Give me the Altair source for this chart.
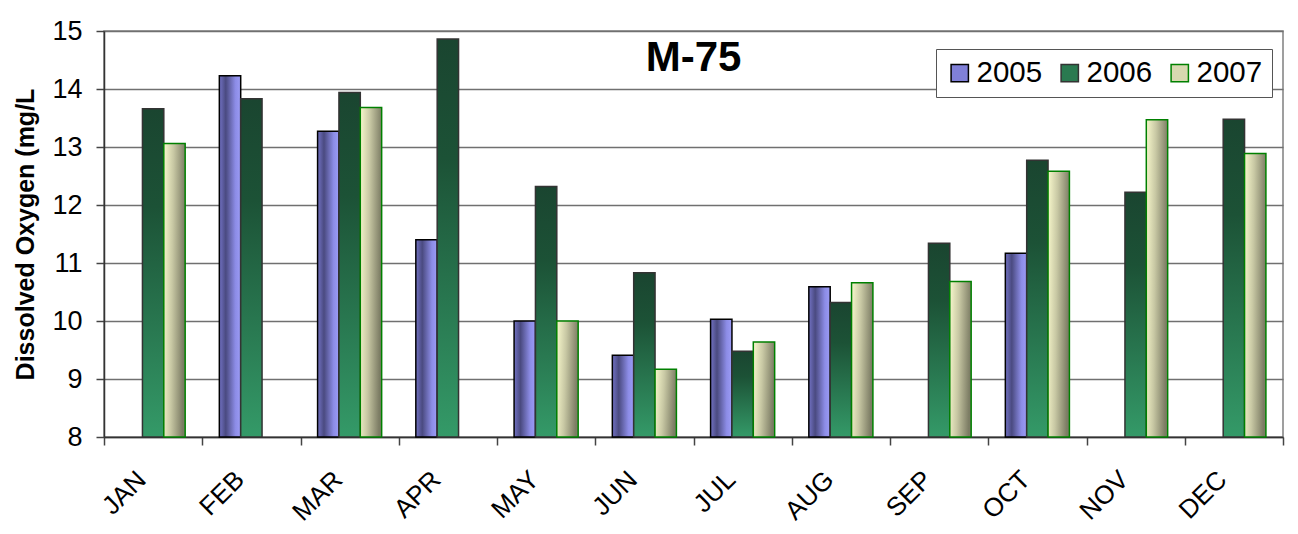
import altair as alt
import pandas as pd

months = ["JAN", "FEB", "MAR", "APR", "MAY", "JUN", "JUL", "AUG", "SEP", "OCT", "NOV", "DEC"]
years = ["2005", "2006", "2007"]
do_2005 = [None, 14.23, 13.27, 11.40, 10.00, 9.41, 10.03, 10.59, None, 11.17, None, None]
do_2006 = [13.66, 13.83, 13.94, 14.86, 12.32, 10.83, 9.48, 10.32, 11.34, 12.77, 12.22, 13.48]
do_2007 = [13.06, None, 13.68, None, 10.00, 9.17, 9.64, 10.66, 10.68, 12.58, 13.47, 12.89]
title_text = ["M-75"]
y_ticks = [8, 9, 10, 11, 12, 13, 14, 15]

rows = []
for yr, vals in zip(years, [do_2005, do_2006, do_2007]):
    for m, v in zip(months, vals):
        if v is not None:
            rows.append({"month": m, "year": yr, "value": v})
df = pd.DataFrame(rows)

FONT = "Liberation Sans"
W, H = 1179, 406

x_enc = alt.X("month:N", sort=months, title=None,
              scale=alt.Scale(domain=months, paddingInner=0, paddingOuter=0),
              axis=alt.Axis(labelAngle=-45, labelFontSize=26, labelFont=FONT, labelColor="black",
                            labelAlign="right", labelBaseline="top", labelOffset=-21,
                            tickBand="extent", tickSize=8, tickColor="#444", tickWidth=1.5,
                            domainColor="#333", domainWidth=1.5, labelPadding=21, grid=False))
xo_enc = alt.XOffset("year:N", scale=alt.Scale(domain=years, paddingInner=0, paddingOuter=0.8))
y_enc = alt.Y("value:Q", title="Dissolved Oxygen (mg/L",
              scale=alt.Scale(domain=[8, 15], zero=False, nice=False),
              axis=alt.Axis(values=y_ticks, labelFontSize=27, labelFont=FONT, labelColor="black",
                            tickSize=8, tickColor="#444", tickWidth=1.5, domainColor="#333", domainWidth=1.5,
                            gridColor="#707070", gridWidth=1.5, labelPadding=14,
                            titleFont=FONT, titleFontSize=25, titleFontWeight="bold", titleColor="black",
                            titlePadding=13))
y2_enc = alt.Y2(datum=8)

def grad(stops, x1, y1, x2, y2):
    return alt.LinearGradient(gradient="linear", x1=x1, y1=y1, x2=x2, y2=y2,
                              stops=[alt.GradientStop(offset=o, color=c) for o, c in stops])

g2005 = grad([(0, "#7272c4"), (0.3, "#4a4a80"), (0.75, "#8c8ce6"), (1, "#9c9cf6")], 0, 0, 1, 0)
g2006 = grad([(0, "#1a4530"), (0.3, "#1c5236"), (1, "#349a68")], 0, 0, 0, 1)
g2007 = grad([(0, "#f8f8cc"), (0.45, "#c8c8a4"), (1, "#7c7c64")], 0, 0, 1, 0.15)

base = alt.Chart(df)
b05 = base.transform_filter(alt.datum.year == "2005").mark_bar(
    fill=g2005, stroke="black", strokeWidth=1.5).encode(x=x_enc, xOffset=xo_enc, y=y_enc, y2=y2_enc)
b06 = base.transform_filter(alt.datum.year == "2006").mark_bar(
    fill=g2006, stroke="#333333", strokeWidth=1.5).encode(x=x_enc, xOffset=xo_enc, y=y_enc, y2=y2_enc)
b07 = base.transform_filter(alt.datum.year == "2007").mark_bar(
    fill=g2007, stroke="#008000", strokeWidth=1.5).encode(x=x_enc, xOffset=xo_enc, y=y_enc, y2=y2_enc)

leg_scale_fill = alt.Scale(domain=years, range=["#8080d8", "#2a7a50", "#d8d8b0"])
leg_scale_stroke = alt.Scale(domain=years, range=["black", "#333333", "#008000"])
legend = alt.Legend(title=None, orient="none", legendX=832, legendY=18, direction="horizontal",
                    labelFontSize=29.5, labelFont=FONT, labelColor="black", symbolType="square",
                    symbolSize=300, symbolStrokeWidth=1.5, symbolOpacity=1, labelOffset=2,
                    columnPadding=12, padding=9, strokeColor="#555", fillColor="white")
leg = base.mark_bar(opacity=0).encode(
    x=x_enc, xOffset=xo_enc, y=y_enc, y2=y2_enc,
    fill=alt.Fill("year:N", scale=leg_scale_fill, legend=legend),
    stroke=alt.Stroke("year:N", scale=leg_scale_stroke, legend=legend))

title = alt.Chart(pd.DataFrame({"t": title_text})).mark_text(
    font=FONT, fontSize=42, fontWeight="bold", color="black", align="center", baseline="middle"
).encode(text="t:N", x=alt.value(W / 2), y=alt.value(27))

chart = alt.layer(leg, b05, b06, b07, title).properties(
    width=W, height=H,
    autosize=alt.AutoSizeParams(type="none"),
    padding={"left": 96, "top": 23, "right": 7, "bottom": 88},
    background="white",
).configure_view(stroke="#808080", strokeWidth=1.5)

chart.save("out.html", embed_options={"renderer": "svg", "actions": False})
